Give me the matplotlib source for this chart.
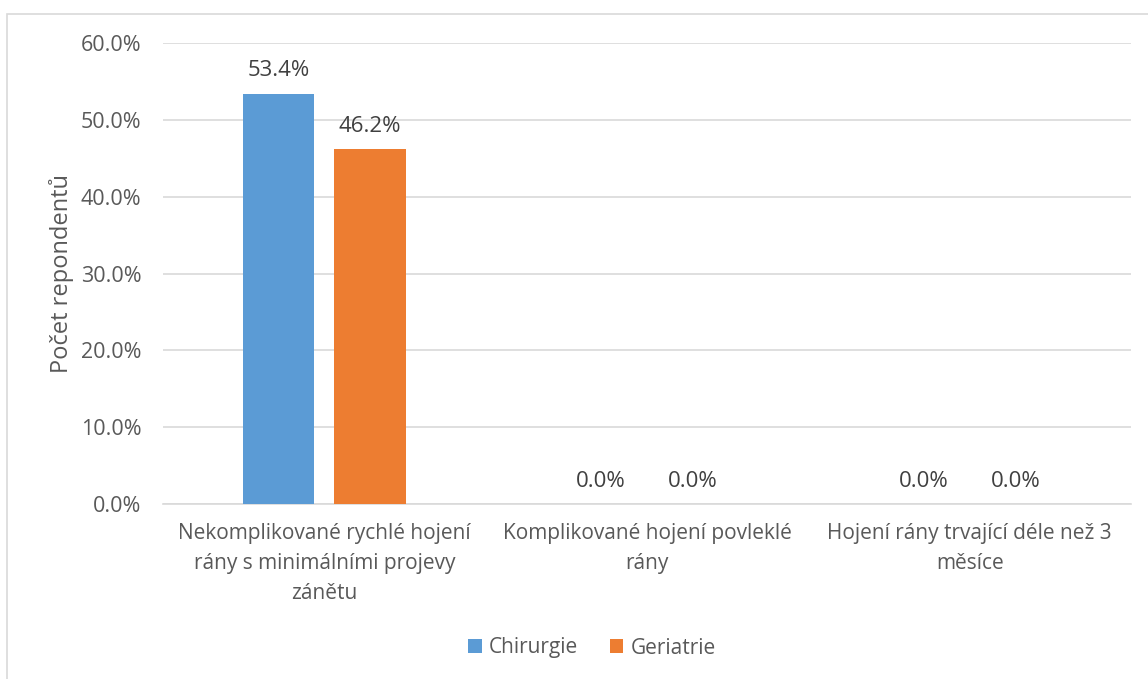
import matplotlib
matplotlib.use("Agg")
import matplotlib.pyplot as plt
from matplotlib.patches import Rectangle
from matplotlib.ticker import FuncFormatter
import numpy as np

categories = [
    "Nekomplikované rychlé hojení\nrány s minimálními projevy\nzánětu",
    "Komplikované hojení povleklé\nrány",
    "Hojení rány trvající déle než 3\nměsíce",
]
series_names = ["Chirurgie", "Geriatrie"]
chirurgie = [53.4, 0.0, 0.0]
geriatrie = [46.2, 0.0, 0.0]
colors = ["#5B9BD5", "#ED7D31"]
yticks = [0, 10, 20, 30, 40, 50, 60]

plt.rcParams["font.family"] = ["Open Sans", "DejaVu Sans"]
text_color = "#595959"

fig = plt.figure(figsize=(11.48, 6.79), dpi=100)
W, H = 1148, 679
ax = fig.add_axes([163 / W, 1 - 504 / H, (1131 - 163) / W, (504 - 43) / H])

# outer chart frame
fig.patches.append(Rectangle((7 / W, -0.01), 1.1, 1 - 14 / H + 0.01,
                             transform=fig.transFigure, fill=False,
                             edgecolor="#D9D9D9", linewidth=1.2))

x = np.arange(len(categories))
bw = 0.223
off = 0.142
for vals, c, o, name in [(chirurgie, colors[0], -off, series_names[0]),
                         (geriatrie, colors[1], off, series_names[1])]:
    bars = ax.bar(x + o, vals, width=bw, color=c, label=name, zorder=3)
    for b, v in zip(bars, vals):
        ax.text(b.get_x() + b.get_width() / 2, v + 1.6, f"{v:.1f}%",
                ha="center", va="bottom", fontsize=16, color="#404040")

ax.set_xlim(-0.5, len(categories) - 0.5)
ax.set_ylim(0, 60)
ax.set_yticks(yticks)
ax.yaxis.set_major_formatter(FuncFormatter(lambda v, p: f"{v:.1f}%"))
ax.grid(axis="y", color="#D9D9D9", linewidth=1.2, zorder=0)
for s in ["top", "right", "left"]:
    ax.spines[s].set_visible(False)
ax.spines["bottom"].set_color("#D9D9D9")
ax.spines["bottom"].set_linewidth(1.2)
ax.tick_params(axis="both", length=0, labelcolor=text_color)
ax.tick_params(axis="y", pad=15.5, labelsize=15.5)
ax.tick_params(axis="x", pad=14, labelsize=15)
ax.set_xticks(x)
ax.set_xticklabels(categories, linespacing=1.55)
ax.set_ylabel("Počet repondentů", fontsize=17, color=text_color, labelpad=5)

leg = fig.legend(loc="center", bbox_to_anchor=(592 / W, 1 - 648 / H), ncol=2,
                 frameon=False, fontsize=15, handlelength=0.65, handleheight=0.65,
                 handletextpad=0.35, columnspacing=1.5)
for t in leg.get_texts():
    t.set_color(text_color)

fig.savefig("out.png", dpi=100)
